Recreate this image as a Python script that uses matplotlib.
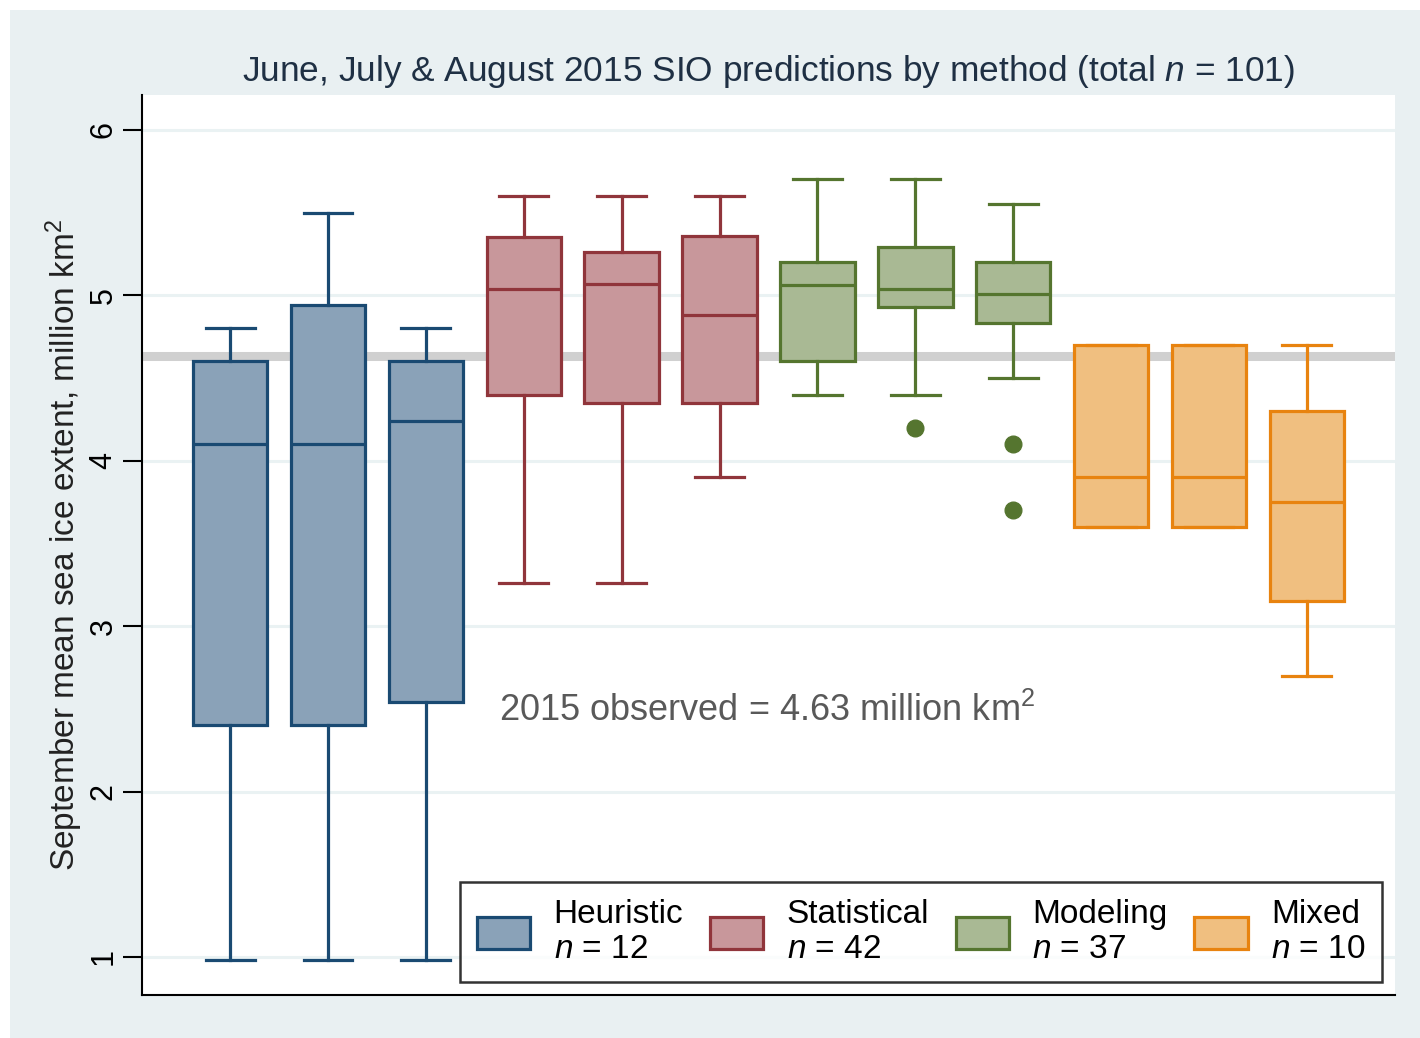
import matplotlib
matplotlib.use('Agg')
import matplotlib.pyplot as plt
from matplotlib.patches import Rectangle, Patch

plt.rcParams['font.family'] = ['Liberation Sans', 'DejaVu Sans']
plt.rcParams['mathtext.fontset'] = 'custom'
plt.rcParams['mathtext.rm'] = 'Liberation Sans'
plt.rcParams['mathtext.it'] = 'Liberation Sans:italic'

# data (million km2)
methods = ['Heuristic', 'Statistical', 'Modeling', 'Mixed']
counts = [12, 42, 37, 10]
group_of_box = [0, 0, 0, 1, 1, 1, 2, 2, 2, 3, 3, 3]
whis_lo = [0.98, 0.98, 0.98, 3.26, 3.26, 3.90, 4.40, 4.40, 4.50, 3.60, 3.60, 2.70]
q1 = [2.40, 2.40, 2.54, 4.40, 4.35, 4.35, 4.60, 4.93, 4.83, 3.60, 3.60, 3.15]
medians = [4.10, 4.10, 4.24, 5.04, 5.07, 4.88, 5.06, 5.04, 5.01, 3.90, 3.90, 3.75]
q3 = [4.60, 4.94, 4.60, 5.35, 5.26, 5.36, 5.20, 5.29, 5.20, 4.70, 4.70, 4.30]
whis_hi = [4.80, 5.50, 4.80, 5.60, 5.60, 5.60, 5.70, 5.70, 5.55, 4.70, 4.70, 4.70]
outliers = [[], [], [], [], [], [], [], [4.20], [4.10, 3.70], [], [], []]
observed = 4.63

fills = ['#8aa2b8', '#c8979b', '#a9b994', '#f0bf80']
edges = ['#1a4a72', '#90353b', '#55752f', '#e8830f']

fig = plt.figure(figsize=(14.2, 10.38), dpi=100)
fig.patches.append(Rectangle((10 / 1420, 0), 1, 1 - 10 / 1038, transform=fig.transFigure,
                             facecolor='#e9f0f2', edgecolor='none', zorder=-1))
ax = fig.add_axes([0.1, 0.0414, 0.8824, 0.867])
ax.set_facecolor('white')

for y in range(1, 7):
    ax.axhline(y, color='#eaf2f3', lw=2.2, zorder=0)
ax.axhline(observed, color='#d0d0d0', lw=6.5, zorder=1)

for i in range(12):
    g = group_of_box[i]
    stats = [dict(med=medians[i], q1=q1[i], q3=q3[i], whislo=whis_lo[i], whishi=whis_hi[i],
                  fliers=outliers[i])]
    lp = dict(color=edges[g], lw=2.3)
    ax.bxp(stats, positions=[i + 1], widths=0.76, capwidths=0.5, patch_artist=True,
           boxprops=dict(facecolor=fills[g], edgecolor=edges[g], lw=2.3),
           medianprops=lp, whiskerprops=lp, capprops=lp,
           flierprops=dict(marker='o', markersize=12, markerfacecolor=edges[g],
                           markeredgecolor=edges[g]),
           manage_ticks=False, zorder=3)

ax.set_xlim(0.1, 12.9)
ax.set_ylim(0.77, 6.21)
ax.set_xticks([])
ax.set_yticks(range(1, 7))
ax.tick_params(axis='y', length=14, width=1.5, labelsize=22, pad=3)
for lab in ax.get_yticklabels():
    lab.set_rotation(90)
    lab.set_va('center')
for s in ['top', 'right']:
    ax.spines[s].set_visible(False)
ax.spines['left'].set_linewidth(1.5)
ax.spines['bottom'].set_linewidth(1.5)

ax.set_ylabel('September mean sea ice extent, million km$^2$', fontsize=24, color='#222222', va='center')
ax.yaxis.set_label_coords(-0.062, 0.5)
ax.set_title('June, July & August 2015 SIO predictions by method (total $n$ = 101)',
             fontsize=25.4, color='#1f3044', pad=10)
ax.text(3.75, 2.49, '2015 observed = 4.63 million km$^2$', fontsize=26, color='#595959', va='center')

handles = [Patch(facecolor=fills[k], edgecolor=edges[k], lw=2.3) for k in range(4)]
labels = [f'{m}\n$n$ = {c}' for m, c in zip(methods, counts)]
leg = ax.legend(handles, labels, ncol=4, loc='lower right',
                bbox_to_anchor=(1382 / 1420, 1 - 982 / 1038), bbox_transform=fig.transFigure,
                borderaxespad=0, fontsize=24, frameon=True, fancybox=False,
                handlelength=1.6, handleheight=1.1, handletextpad=0.7, columnspacing=0.8,
                labelspacing=0.1, borderpad=0.5)
leg.get_frame().set_edgecolor('black')
leg.get_frame().set_linewidth(1.8)

fig.savefig('out.png', dpi=100)
